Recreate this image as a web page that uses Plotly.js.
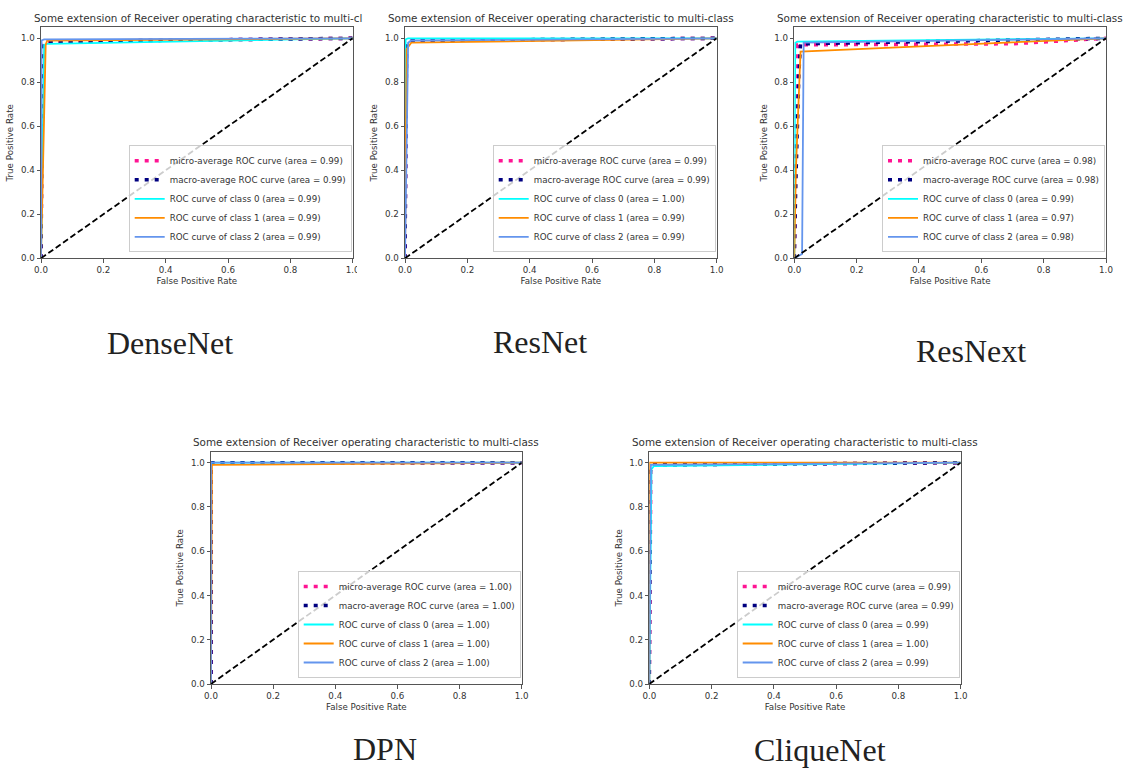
<!DOCTYPE html>
<html>
<head>
<meta charset="utf-8">
<script src="https://cdn.plot.ly/plotly-3.0.1.min.js"></script>
<style>
html,body{margin:0;padding:0;background:#fff;}
#chart{width:1125px;height:773px;}
</style>
</head>
<body>
<div id="chart"></div>
<script>
// ---------------- DATA ----------------
const modelNames = ['DenseNet', 'ResNet', 'ResNext', 'DPN', 'CliqueNet'];
const panelTitles = [
  'Some extension of Receiver operating characteristic to multi-cl',
  'Some extension of Receiver operating characteristic to multi-class',
  'Some extension of Receiver operating characteristic to multi-class',
  'Some extension of Receiver operating characteristic to multi-class',
  'Some extension of Receiver operating characteristic to multi-class'
];
const seriesNames = ['micro-average ROC curve', 'macro-average ROC curve',
  'ROC curve of class 0', 'ROC curve of class 1', 'ROC curve of class 2'];
const microArea  = [0.99, 0.99, 0.98, 1.00, 0.99];
const macroArea  = [0.99, 0.99, 0.98, 1.00, 0.99];
const class0Area = [0.99, 1.00, 0.99, 1.00, 0.99];
const class1Area = [0.99, 0.99, 0.97, 1.00, 1.00];
const class2Area = [0.99, 0.99, 0.98, 1.00, 0.99];

const xTicks = [0, 0.2, 0.4, 0.6, 0.8, 1.0];
const yTicks = [0, 0.2, 0.4, 0.6, 0.8, 1.0];
const diagX = [0, 1];
const diagY = [0, 1];

// DenseNet
const denseMicroX = [0, 0.005, 0.02, 1];     const denseMicroY = [0, 0.97, 0.985, 1];
const denseMacroX = [0, 0.005, 0.02, 1];     const denseMacroY = [0, 0.96, 0.985, 1];
const denseC0X = [0, 0.01, 0.02, 1];         const denseC0Y = [0, 0.97, 0.975, 1];
const denseC1X = [0, 0.015, 0.02, 1];        const denseC1Y = [0, 0.97, 0.99, 1];
const denseC2X = [0, 0.002, 0.01, 1];        const denseC2Y = [0, 0.99, 0.995, 1];
// ResNet
const resMicroX = [0, 0.005, 0.015, 1];      const resMicroY = [0, 0.98, 0.99, 1];
const resMacroX = [0, 0.005, 0.015, 1];      const resMacroY = [0, 0.97, 0.99, 1];
const resC0X = [0, 0.002, 0.01, 1];          const resC0Y = [0, 0.995, 1.0, 1];
const resC1X = [0, 0.005, 0.02, 1];          const resC1Y = [0, 0.95, 0.98, 1];
const resC2X = [0, 0.01, 0.02, 1];           const resC2Y = [0, 0.98, 0.99, 1];
// ResNext
const rxMicroX = [0, 0.01, 0.7, 1];          const rxMicroY = [0, 0.97, 0.975, 1];
const rxMacroX = [0, 0.005, 0.015, 0.02, 1]; const rxMacroY = [0, 0.35, 0.85, 0.975, 1];
const rxC0X = [0, 0.003, 0.01, 1];           const rxC0Y = [0, 0.98, 0.985, 1];
const rxC1X = [0, 0.005, 0.02, 1];           const rxC1Y = [0, 0.4, 0.94, 1];
const rxC2X = [0, 0.025, 0.03, 1];           const rxC2Y = [0, 0.02, 0.98, 1];
// DPN
const dpnMicroX = [0, 0.0, 0.005, 1];        const dpnMicroY = [0, 0.99, 1.0, 1];
const dpnMacroX = [0, 0.0, 0.005, 1];        const dpnMacroY = [0, 0.995, 1.0, 1];
const dpnC0X = [0, 0.0, 1];                  const dpnC0Y = [0, 1.0, 1];
const dpnC1X = [0, 0.003, 1];                const dpnC1Y = [0, 0.99, 1];
const dpnC2X = [0, 0.0, 1];                  const dpnC2Y = [0, 1.0, 1];
// CliqueNet
const cqMicroX = [0, 0.005, 0.01, 1];        const cqMicroY = [0, 0.97, 0.99, 1];
const cqMacroX = [0, 0.003, 0.01, 1];        const cqMacroY = [0, 0.96, 0.99, 1];
const cqC0X = [0, 0.007, 0.015, 1];          const cqC0Y = [0, 0.97, 0.985, 1];
const cqC1X = [0, 0.0, 1];                   const cqC1Y = [0, 1.0, 1];
const cqC2X = [0, 0.005, 1];                 const cqC2Y = [0, 0.99, 1];

const curvesX = [
  [denseMicroX, denseMacroX, denseC0X, denseC1X, denseC2X],
  [resMicroX, resMacroX, resC0X, resC1X, resC2X],
  [rxMicroX, rxMacroX, rxC0X, rxC1X, rxC2X],
  [dpnMicroX, dpnMacroX, dpnC0X, dpnC1X, dpnC2X],
  [cqMicroX, cqMacroX, cqC0X, cqC1X, cqC2X]
];
const curvesY = [
  [denseMicroY, denseMacroY, denseC0Y, denseC1Y, denseC2Y],
  [resMicroY, resMacroY, resC0Y, resC1Y, resC2Y],
  [rxMicroY, rxMacroY, rxC0Y, rxC1Y, rxC2Y],
  [dpnMicroY, dpnMacroY, dpnC0Y, dpnC1Y, dpnC2Y],
  [cqMicroY, cqMacroY, cqC0Y, cqC1Y, cqC2Y]
];
const areas = [microArea, macroArea, class0Area, class1Area, class2Area];

// ---------------- STYLE / LAYOUT ----------------
const W = 1125, H = 773;
const colors = ['#FF1493', '#000080', '#00FFFF', '#FF8C00', '#6495ED'];
const widths = [3.5, 3.5, 1.8, 1.8, 1.8];
const dashes = ['4px,6px', '4px,6px', 'solid', 'solid', 'solid'];
// panel boxes in pixels: [left, right, top, bottom]
const boxes = [
  [41, 352.7, 27.3, 258.3],
  [405, 716.7, 27.3, 258.3],
  [794.3, 1106, 27.3, 258.3],
  [211, 521.7, 451.6, 684],
  [649.3, 960.7, 451.6, 684]
];
const captions = [
  {x: 170, y: 343}, {x: 540, y: 342}, {x: 971, y: 351},
  {x: 385, y: 749}, {x: 820, y: 750}
];
const txt = '#333333';
const FONT = 'DejaVu Sans, sans-serif';

const data = [];
const layout = {
  width: W, height: H,
  margin: {l: 0, r: 0, t: 0, b: 0},
  paper_bgcolor: '#ffffff', plot_bgcolor: '#ffffff',
  font: {family: FONT, size: 8.7, color: txt},
  showlegend: true,
  annotations: [],
  shapes: []
};

boxes.forEach((b, p) => {
  const n = p === 0 ? '' : String(p + 1);
  const xa = 'x' + n, ya = 'y' + n;
  const legName = p === 0 ? 'legend' : 'legend' + (p + 1);
  for (let s = 0; s < 5; s++) {
    data.push({
      type: 'scatter', mode: 'lines',
      x: curvesX[p][s], y: curvesY[p][s],
      xaxis: xa, yaxis: ya, legend: legName,
      name: seriesNames[s] + ' (area = ' + areas[s][p].toFixed(2) + ')',
      line: {color: colors[s], width: widths[s], dash: dashes[s]},
      hoverinfo: 'skip'
    });
  }
  data.push({
    type: 'scatter', mode: 'lines', x: diagX, y: diagY,
    xaxis: xa, yaxis: ya, showlegend: false, legend: legName,
    line: {color: '#000000', width: 1.8, dash: '6px,3px'}, hoverinfo: 'skip'
  });

  const axCommon = {
    showgrid: false, zeroline: false, showline: true, mirror: true,
    linecolor: '#555555', linewidth: 1,
    ticks: 'outside', ticklen: 3.5, tickwidth: 1, tickcolor: '#555555',
    tickfont: {family: FONT, size: 8.7, color: txt},
    tickformat: '.1f', automargin: false, fixedrange: true
  };
  layout['xaxis' + n] = Object.assign({}, axCommon, {
    domain: [b[0] / W, b[1] / W], anchor: ya,
    range: [0, 1], tickvals: xTicks,
    title: {text: 'False Positive Rate', font: {family: FONT, size: 8.7, color: txt}, standoff: 3}
  });
  layout['yaxis' + n] = Object.assign({}, axCommon, {
    domain: [1 - b[3] / H, 1 - b[2] / H], anchor: xa,
    range: [0, 1.05], tickvals: yTicks,
    title: {text: 'True Positive Rate', font: {family: FONT, size: 8.7, color: txt}, standoff: 5}
  });
  layout[legName] = {
    x: (b[1] - 1) / W, xanchor: 'right',
    y: 1 - (b[3] - 6) / H, yanchor: 'bottom',
    bgcolor: 'rgba(255,255,255,0.8)', bordercolor: '#cccccc', borderwidth: 1,
    font: {family: FONT, size: 8.7, color: txt},
    itemwidth: 30, tracegroupgap: 0
  };
  // subplot title
  const midX = (b[0] + b[1]) / 2;
  if (p === 0) {
    layout.annotations.push({
      xref: 'paper', yref: 'paper', x: 32 / W, y: 1 - (b[2] - 9.5) / H,
      xanchor: 'left', yanchor: 'middle', showarrow: false,
      text: panelTitles[p], font: {family: FONT, size: 10.4, color: txt}
    });
  } else {
    layout.annotations.push({
      xref: 'paper', yref: 'paper', x: midX / W, y: 1 - (b[2] - 9.5) / H,
      xanchor: 'center', yanchor: 'middle', showarrow: false,
      text: panelTitles[p], font: {family: FONT, size: 10.4, color: txt}
    });
  }
  // model caption
  layout.annotations.push({
    xref: 'paper', yref: 'paper', x: captions[p].x / W, y: 1 - captions[p].y / H,
    xanchor: 'center', yanchor: 'middle', showarrow: false, borderpad: 0,
    text: modelNames[p], font: {family: 'Liberation Serif, serif', size: 32, color: '#222222'}
  });
});

// white mask for the cropped right edge of the first panel (reference image is cut there)
layout.shapes.push({
  type: 'rect', xref: 'paper', yref: 'paper', layer: 'above',
  x0: 357 / W, x1: 369 / W, y0: 1 - 275 / H, y1: 1 - 262 / H,
  fillcolor: '#ffffff', line: {width: 0}
});

Plotly.newPlot('chart', data, layout, {staticPlot: true, displayModeBar: false});
</script>
</body>
</html>
